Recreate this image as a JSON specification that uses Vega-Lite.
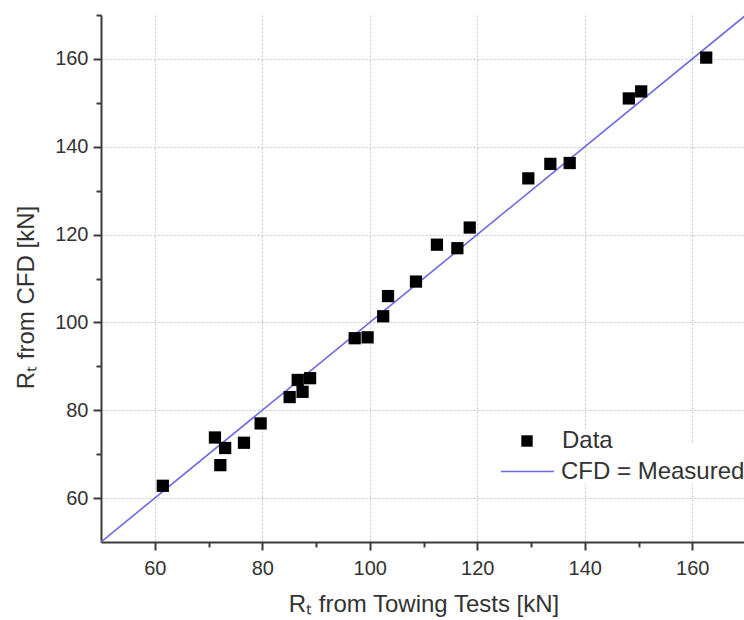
{
  "$schema": "https://vega.github.io/schema/vega-lite/v6.json",
  "autosize": {"type": "none"},
  "padding": {"left": 101, "top": 15, "right": 0, "bottom": 77},
  "width": 645,
  "height": 527,
  "background": "white",
  "config": {
    "view": {"stroke": null},
    "font": "Liberation Sans",
    "axis": {
      "domainColor": "#3a3a3a",
      "domainWidth": 2,
      "tickColor": "#3a3a3a",
      "tickWidth": 2,
      "labelColor": "#333333",
      "labelFont": "Liberation Sans",
      "labelFontSize": 20,
      "titleColor": "#333333",
      "titleFont": "Liberation Sans",
      "titleFontSize": 24,
      "titleFontWeight": "normal",
      "gridColor": "#c4c4c4",
      "gridDash": [2, 2],
      "gridWidth": 1
    },
    "legend": {
      "title": null,
      "orient": "none",
      "fillColor": "white",
      "padding": 0,
      "labelFontSize": 24,
      "labelLimit": 0,
      "labelColor": "#333333",
      "labelFont": "Liberation Sans"
    }
  },
  "datasets": {
    "pts": [
      {"tow": 61.5, "cfd": 62.8, "series": "Data"},
      {"tow": 71.2, "cfd": 73.8, "series": "Data"},
      {"tow": 72.2, "cfd": 67.5, "series": "Data"},
      {"tow": 73.1, "cfd": 71.4, "series": "Data"},
      {"tow": 76.6, "cfd": 72.6, "series": "Data"},
      {"tow": 79.7, "cfd": 77.0, "series": "Data"},
      {"tow": 85.1, "cfd": 83.0, "series": "Data"},
      {"tow": 86.6, "cfd": 86.9, "series": "Data"},
      {"tow": 87.5, "cfd": 84.2, "series": "Data"},
      {"tow": 88.9, "cfd": 87.3, "series": "Data"},
      {"tow": 97.2, "cfd": 96.4, "series": "Data"},
      {"tow": 99.6, "cfd": 96.6, "series": "Data"},
      {"tow": 102.5, "cfd": 101.4, "series": "Data"},
      {"tow": 103.4, "cfd": 106.0, "series": "Data"},
      {"tow": 108.6, "cfd": 109.3, "series": "Data"},
      {"tow": 112.5, "cfd": 117.7, "series": "Data"},
      {"tow": 116.3, "cfd": 116.9, "series": "Data"},
      {"tow": 118.6, "cfd": 121.6, "series": "Data"},
      {"tow": 129.5, "cfd": 132.8, "series": "Data"},
      {"tow": 133.6, "cfd": 136.1, "series": "Data"},
      {"tow": 137.2, "cfd": 136.3, "series": "Data"},
      {"tow": 148.2, "cfd": 151.0, "series": "Data"},
      {"tow": 150.5, "cfd": 152.6, "series": "Data"},
      {"tow": 162.6, "cfd": 160.3, "series": "Data"}
    ],
    "ref": [
      {"tow": 50, "cfd": 50, "series": "CFD = Measured"},
      {"tow": 170, "cfd": 170, "series": "CFD = Measured"}
    ]
  },
  "layer": [
    {
      "data": {"name": "ref"},
      "mark": {"type": "line", "strokeWidth": 1.6, "clip": true},
      "encoding": {
        "x": {
          "field": "tow", "type": "quantitative",
          "scale": {"domain": [50, 170], "nice": false, "zero": false},
          "axis": {
            "title": "Rₜ from Towing Tests [kN]",
            "values": [60, 70, 80, 90, 100, 110, 120, 130, 140, 150, 160],
            "labelExpr": "datum.value % 20 == 0 ? datum.label : ''",
            "tickSize": {"condition": {"test": "datum.value % 20 == 0", "value": 8}, "value": 5},
            "gridOpacity": {"condition": {"test": "datum.value % 20 == 0", "value": 1}, "value": 0},
            "labelPadding": 8,
            "titlePadding": 14,
            "labelFlush": false
          }
        },
        "y": {
          "field": "cfd", "type": "quantitative",
          "scale": {"domain": [50, 170], "nice": false, "zero": false},
          "axis": {
            "title": "Rₜ from CFD [kN]",
            "values": [60, 70, 80, 90, 100, 110, 120, 130, 140, 150, 160, 170],
            "labelExpr": "datum.value % 20 == 0 && datum.value < 170 ? datum.label : ''",
            "tickSize": {"condition": {"test": "datum.value % 20 == 0", "value": 8}, "value": 5},
            "gridOpacity": {"condition": {"test": "datum.value % 20 == 0 && datum.value < 170", "value": 1}, "value": 0},
            "labelPadding": 5,
            "titlePadding": 16,
            "titleY": 282,
            "labelFlush": false
          }
        },
        "stroke": {
          "field": "series", "type": "nominal",
          "scale": {"domain": ["CFD = Measured"], "range": ["#6a6ae4"]},
          "legend": {
            "legendX": 399,
            "legendY": 429,
            "symbolType": "stroke",
            "symbolSize": 2809,
            "symbolStrokeWidth": 1.6,
            "labelOffset": 6
          }
        }
      }
    },
    {
      "data": {"name": "pts"},
      "mark": {"type": "square", "size": 150, "opacity": 1, "filled": true},
      "encoding": {
        "x": {"field": "tow", "type": "quantitative"},
        "y": {"field": "cfd", "type": "quantitative"},
        "fill": {
          "field": "series", "type": "nominal",
          "scale": {"domain": ["Data"], "range": ["#000000"]},
          "legend": {
            "legendX": 414,
            "legendY": 414,
            "symbolType": "square",
            "symbolSize": 130,
            "symbolOpacity": 1,
            "symbolStrokeWidth": 0,
            "labelOffset": 23
          }
        }
      }
    }
  ]
}
